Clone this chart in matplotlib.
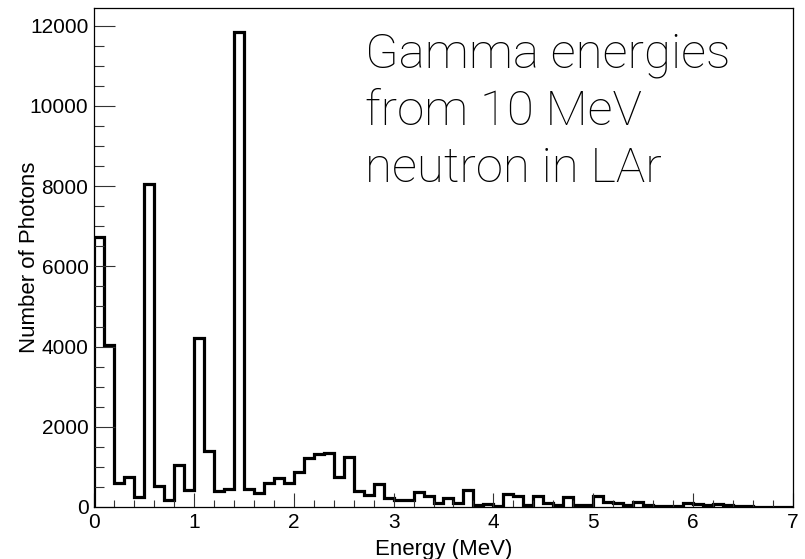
import numpy as np
import matplotlib
matplotlib.use("Agg")
import matplotlib.pyplot as plt
from matplotlib.ticker import MultipleLocator

# photon counts per 0.1 MeV bin, 0 - 7 MeV
counts = [6720, 4040, 610, 760, 240, 8060, 525, 175, 1050, 425,
          4210, 1400, 400, 450, 11850, 450, 340, 600, 720, 610,
          880, 1220, 1325, 1355, 760, 1245, 390, 290, 570, 230,
          175, 175, 385, 270, 100, 235, 108, 415, 45, 70,
          25, 325, 275, 50, 270, 110, 40, 260, 40, 40,
          270, 120, 100, 40, 120, 60, 25, 25, 25, 100,
          70, 50, 80, 50, 20, 15, 10, 10, 5, 5]
e_min, e_max = 0.0, 7.0
edges = np.linspace(e_min, e_max, len(counts) + 1)

title_lines = ["Gamma energies", "from 10 MeV", "neutron in LAr"]

plt.rcParams['font.family'] = ['Liberation Sans', 'DejaVu Sans']

fig = plt.figure(figsize=(8.05, 5.59), dpi=100)
ax = fig.add_axes([94 / 805, 1 - 507 / 559, 699 / 805, 499 / 559])

ax.stairs(counts, edges, color='black', lw=2.3)

ax.set_xlim(e_min, e_max)
ax.set_ylim(0, 1.05 * max(counts))

ax.xaxis.set_major_locator(MultipleLocator(1))
ax.xaxis.set_minor_locator(MultipleLocator(0.2))
ax.yaxis.set_major_locator(MultipleLocator(2000))
ax.yaxis.set_minor_locator(MultipleLocator(500))

ax.tick_params(axis='both', which='both', direction='in', color='#333333',
               width=0.8, labelsize=15, top=False, right=False)
ax.tick_params(axis='y', which='major', length=15, pad=4)
ax.tick_params(axis='y', which='minor', length=7.5)
ax.tick_params(axis='x', which='major', length=10, pad=4)
ax.tick_params(axis='x', which='minor', length=5)

for s in ax.spines.values():
    s.set_linewidth(0.9)

ax.set_xlabel("Energy (MeV)", fontsize=16, labelpad=5)
ax.set_ylabel("Number of Photons", fontsize=16)
ax.yaxis.set_label_coords(-0.0773, 0.5)

ax.text(365 / 805, 1 - 32 / 559, "\n".join(title_lines),
        transform=fig.transFigure, fontsize=35.5, va='top', ha='left',
        family=['Roboto', 'Liberation Sans'], fontweight='light',
        linespacing=1.28)

fig.savefig("out.png", dpi=100)
